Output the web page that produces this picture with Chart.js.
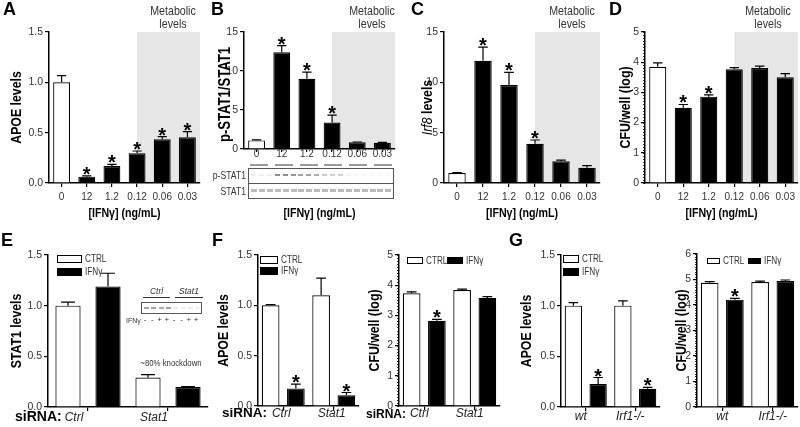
<!DOCTYPE html>
<html>
<head>
<meta charset="utf-8">
<script src="https://cdn.jsdelivr.net/npm/chart.js@4.4.1/dist/chart.umd.min.js"></script>
<style>
body{margin:0;background:#fff;width:800px;height:427px;position:relative;overflow:hidden;font-family:"Liberation Sans",Arial,sans-serif;}
canvas{position:absolute}
.let{position:absolute;font-weight:bold;font-size:18px;line-height:18px;color:#000}
.meta{position:absolute;width:80px;text-align:center;font-size:13px;line-height:13px;color:#333;transform:scaleX(0.82)}
.sirna{position:absolute;font-weight:bold;font-size:14px;line-height:14px;color:#000}
.sm{position:absolute;font-size:10.5px;line-height:11px;color:#333;white-space:nowrap}
.nar{transform:scaleX(0.82)}
.box{position:absolute;border:1px solid #555;box-sizing:border-box;background:#fff}
.band{position:absolute;background:#666}
</style>
</head>
<body>
<canvas id="cA"></canvas><canvas id="cB"></canvas><canvas id="cC"></canvas><canvas id="cD"></canvas>
<canvas id="cE"></canvas><canvas id="cF1"></canvas><canvas id="cF2"></canvas><canvas id="cG1"></canvas><canvas id="cG2"></canvas>

<div class="let" style="left:3px;top:0px">A</div>
<div class="let" style="left:211px;top:0px">B</div>
<div class="let" style="left:411px;top:0px">C</div>
<div class="let" style="left:609px;top:0px">D</div>
<div class="let" style="left:1px;top:231px">E</div>
<div class="let" style="left:212px;top:231px">F</div>
<div class="let" style="left:509px;top:231px">G</div>

<div class="meta" style="left:133px;top:4px">Metabolic<br>levels</div>
<div class="meta" style="left:332px;top:4px">Metabolic<br>levels</div>
<div class="meta" style="left:532px;top:4px">Metabolic<br>levels</div>
<div class="meta" style="left:728px;top:4px">Metabolic<br>levels</div>

<!-- B western blot inset -->
<div class="sm nar" style="left:200px;top:170px;width:46px;text-align:right;transform-origin:right center">p-STAT1</div>
<div class="sm nar" style="left:200px;top:186px;width:46px;text-align:right;transform-origin:right center">STAT1</div>
<div id="blotB" class="box" style="left:248px;top:168px;width:146px;height:31px"></div>
<div id="dashB"></div>

<!-- E inset -->
<div class="sm" style="left:143px;top:286px;width:27px;text-align:center;font-style:italic;font-size:8.5px;border-bottom:1px solid #333">Ctrl</div>
<div class="sm" style="left:175px;top:286px;width:28px;text-align:center;font-style:italic;font-size:8.5px;border-bottom:1px solid #333">Stat1</div>
<div id="blotE" class="box" style="left:141px;top:302px;width:61px;height:12px"></div>
<div class="sm" style="left:126px;top:315px;font-size:7px">IFNγ</div>
<div id="signE"></div>
<div class="sm nar" style="left:121px;top:357px;width:100px;text-align:center;font-size:9.5px">~80% knockdown</div>

<div class="sirna" style="left:15px;top:409px">siRNA:</div>
<div class="sirna" style="left:222px;top:406px;font-size:13.5px">siRNA:</div>
<div class="sirna" style="left:366px;top:407px;font-size:12px">siRNA:</div>

<script>
// top row: IFNγ dose response
const doses = ['0', '12', '1.2', '0.12', '0.06', '0.03'];
const metabolicFrom = '0.12';

const apoeA = [1.00, 0.063, 0.169, 0.295, 0.434, 0.454];
const apoeAErr = [0.066, 0.007, 0.016, 0.023, 0.026, 0.056];
const apoeASig = [0, 1, 1, 1, 1, 1];

const pstatB = [1.1, 12.4, 9.0, 3.4, 0.85, 0.8];
const pstatBErr = [0.06, 0.85, 0.85, 0.95, 0.05, 0.05];
const pstatBSig = [0, 1, 1, 1, 0, 0];

const irf8C = [1.0, 12.15, 9.73, 3.9, 2.15, 1.52];
const irf8CErr = [0.04, 1.35, 1.26, 0.37, 0.13, 0.2];
const irf8CSig = [0, 1, 1, 1, 0, 0];

const cfuD = [3.85, 2.49, 2.86, 3.77, 3.81, 3.50];
const cfuDErr = [0.13, 0.11, 0.06, 0.05, 0.06, 0.12];
const cfuDSig = [0, 1, 1, 0, 0, 0];

// bottom row: CTRL vs IFNγ
const sirnaGroups = ['Ctrl', 'Stat1'];
const mouseGroups = ['wt', 'Irf1-/-'];

const stat1E_ctrl = [1.0, 0.29];
const stat1E_ctrlErr = [0.035, 0.03];
const stat1E_ifn = [1.19, 0.197];
const stat1E_ifnErr = [0.13, 0.004];

const apoeF_ctrl = [1.0, 1.10];
const apoeF_ctrlErr = [0.008, 0.17];
const apoeF_ifn = [0.175, 0.108];
const apoeF_ifnErr = [0.043, 0.026];
const apoeF_sig = [1, 1];

const cfuF_ctrl = [3.73, 3.84];
const cfuF_ctrlErr = [0.05, 0.03];
const cfuF_ifn = [2.82, 3.58];
const cfuF_ifnErr = [0.05, 0.04];
const cfuF_sig = [1, 0];

const apoeG_ctrl = [1.0, 1.0];
const apoeG_ctrlErr = [0.03, 0.047];
const apoeG_ifn = [0.226, 0.18];
const apoeG_ifnErr = [0.065, 0.014];
const apoeG_sig = [1, 1];

const cfuG_ctrl = [4.87, 4.90];
const cfuG_ctrlErr = [0.05, 0.04];
const cfuG_ifn = [4.21, 4.94];
const cfuG_ifnErr = [0.05, 0.04];
const cfuG_sig = [1, 0];

const FAM = '"Liberation Sans", Arial, sans-serif';
const SQUEEZE = 0.82;   // the figure uses a condensed face
Chart.defaults.font.family = FAM;
Chart.defaults.color = '#333';

// draws text squeezed along its own direction
function narrowText(ctx, text, x, y, font, align) {
  ctx.save();
  ctx.font = font;
  const w = ctx.measureText(text).width * SQUEEZE;
  ctx.translate(x, y);
  ctx.scale(SQUEEZE, 1);
  ctx.textAlign = 'left';
  const x0 = align === 'center' ? -w / 2 : 0;
  ctx.fillText(text, x0 / SQUEEZE, 0);
  ctx.restore();
  return w;
}

// shading, error bars, stars, minor ticks, legend, titles
const decor = {
  id: 'decor',
  beforeDatasetsDraw(chart, args, o) {
    if (!o.shadeFrom) return;
    const {ctx, chartArea: a} = chart;
    const x0 = chart.scales.x.getPixelForValue(chart.data.labels.indexOf(o.shadeFrom));
    ctx.save();
    ctx.fillStyle = '#e6e6e6';
    ctx.fillRect(x0, a.top, a.right - x0, a.bottom - a.top - 1);
    ctx.restore();
  },
  afterDatasetsDraw(chart) {
    const ctx = chart.ctx;
    const y = chart.scales.y;
    chart.data.datasets.forEach((ds, i) => {
      chart.getDatasetMeta(i).data.forEach((bar, j) => {
        const top = y.getPixelForValue(ds.data[j] + (ds.err ? ds.err[j] : 0));
        const cap = Math.min(bar.width * 0.55, 14) / 2;
        ctx.save();
        ctx.strokeStyle = '#000';
        ctx.lineWidth = 1.2;
        ctx.beginPath();
        ctx.moveTo(bar.x, bar.y);
        ctx.lineTo(bar.x, top);
        ctx.moveTo(bar.x - cap, top);
        ctx.lineTo(bar.x + cap, top);
        ctx.stroke();
        if (ds.sig && ds.sig[j]) {
          ctx.fillStyle = '#000';
          ctx.font = 'bold 20px ' + FAM;
          ctx.textAlign = 'center';
          ctx.textBaseline = 'alphabetic';
          ctx.fillText('*', bar.x, top + 5);
        }
        ctx.restore();
      });
    });
  },
  afterDraw(chart, args, o) {
    const {ctx, chartArea: a} = chart;
    const y = chart.scales.y;
    ctx.save();
    // minor ticks
    if (o.minor) {
      ctx.strokeStyle = '#000';
      ctx.lineWidth = 0.8;
      const n = Math.round(y.max / o.minor);
      ctx.beginPath();
      for (let k = 0; k <= n; k++) {
        const py = Math.round(y.getPixelForValue(k * o.minor)) + 0.5;
        ctx.moveTo(a.left - 2, py);
        ctx.lineTo(a.left, py);
      }
      ctx.stroke();
    }
    // legend
    if (o.legend) {
      const L = o.legend;
      ctx.textBaseline = 'middle';
      chart.data.datasets.forEach((ds, i) => {
        const bx = a.left + L.x + (L.dir === 'h' ? i * L.step : 0);
        const by = a.top + L.y + (L.dir === 'v' ? i * L.step : 0);
        ctx.fillStyle = ds.backgroundColor;
        ctx.fillRect(bx, by, L.w, L.h);
        ctx.strokeStyle = '#000';
        ctx.lineWidth = 1;
        ctx.strokeRect(bx + 0.5, by + 0.5, L.w - 1, L.h - 1);
        ctx.fillStyle = '#333';
        narrowText(ctx, ds.label, bx + L.w + 3, by + L.h / 2 + 0.5, '10px ' + FAM, 'left');
      });
    }
    // x title
    if (o.xTitle) {
      ctx.fillStyle = '#000';
      ctx.textBaseline = 'middle';
      narrowText(ctx, o.xTitle, (a.left + a.right) / 2, chart.height - 8, 'bold 13px ' + FAM, 'center');
    }
    // y title with mixed styles
    if (o.yTitle) {
      const size = o.yTitleSize || 15;
      const parts = o.yTitle.map(p => ({t: p[0], f: (p[1] === 'italic' ? 'italic ' : 'bold ') + size + 'px ' + FAM}));
      let total = 0;
      parts.forEach(p => { ctx.font = p.f; p.w = ctx.measureText(p.t).width * SQUEEZE; total += p.w; });
      ctx.translate(o.yTitleX, (a.top + a.bottom) / 2 + (o.yTitleDy || 0));
      ctx.rotate(-Math.PI / 2);
      ctx.fillStyle = '#000';
      ctx.textBaseline = 'middle';
      let x = -total / 2;
      parts.forEach(p => { narrowText(ctx, p.t, x, 0, p.f, 'left'); x += p.w; });
    }
    ctx.restore();
  }
};

function panel(id, g, labels, sets, o) {
  const cv = document.getElementById(id);
  cv.width = g.w;
  cv.height = g.h;
  cv.style.left = g.left + 'px';
  cv.style.top = g.top + 'px';
  return new Chart(cv, {
    type: 'bar',
    data: {
      labels: labels,
      datasets: sets.map(s => ({
        label: s.label,
        data: s.data,
        err: s.err,
        sig: s.sig,
        backgroundColor: s.colors || (s.white ? '#ffffff' : '#000000'),
        borderColor: '#000',
        borderWidth: 1.2,
        barPercentage: o.barPct,
        categoryPercentage: 1
      }))
    },
    options: {
      responsive: false,
      animation: false,
      devicePixelRatio: 1,
      layout: {padding: {top: g.padTop, right: g.padRight, left: 0, bottom: 0}},
      plugins: {
        legend: {display: false},
        tooltip: {enabled: false},
        decor: {shadeFrom: o.shadeFrom, minor: o.minor, legend: o.legend, xTitle: o.xTitle,
                yTitle: o.yTitle, yTitleX: o.yTitleX, yTitleSize: o.yTitleSize, yTitleDy: o.yTitleDy}
      },
      scales: {
        x: {
          grid: {offset: false, drawOnChartArea: false, tickLength: o.xTick || 4, color: '#000', lineWidth: 1.2},
          border: {color: '#000', width: 1.5},
          ticks: {font: o.xFont || {size: 10}, color: o.xColor || '#333', padding: o.xPad, labelOffset: o.labelOffset || 0, maxRotation: 0, autoSkip: false},
          afterFit: s => { s.height = g.xh; }
        },
        y: {
          min: 0,
          max: o.ymax,
          grid: {drawOnChartArea: false, tickLength: 4, color: '#000', lineWidth: 1.2},
          border: {color: '#000', width: 1.5},
          ticks: {stepSize: o.step, padding: 2, font: {size: 10.5}, color: '#333', callback: v => v.toFixed(o.dec)},
          afterFit: s => { s.width = g.yw; }
        }
      }
    },
    plugins: [decor]
  });
}

const doseTitle = '[IFNγ] (ng/mL)';
const top6 = {barPct: 0.67, shadeFrom: metabolicFrom, xTitle: doseTitle, xPad: 4};
// untreated control is the white bar
const doseColors = doses.map((d, i) => i === 0 ? '#ffffff' : '#000000');

panel('cA', {left: 0, top: 0, w: 205, h: 221, yw: 49, padTop: 32, padRight: 5, xh: 38}, doses,
  [{data: apoeA, err: apoeAErr, sig: apoeASig, colors: doseColors}],
  Object.assign({}, top6, {ymax: 1.5, step: 0.5, dec: 1, yTitle: [['APOE levels']], yTitleX: 17}));

panel('cB', {left: 195, top: 0, w: 205, h: 221, yw: 49, padTop: 32, padRight: 5, xh: 72}, doses,
  [{data: pstatB, err: pstatBErr, sig: pstatBSig, colors: doseColors}],
  Object.assign({}, top6, {ymax: 15, step: 5, dec: 0, xTick: 3, xPad: -4, yTitle: [['p-STAT1/STAT1']], yTitleX: 31, yTitleSize: 16, yTitleDy: 4}));

panel('cC', {left: 395, top: 0, w: 210, h: 221, yw: 49, padTop: 32, padRight: 5, xh: 38}, doses,
  [{data: irf8C, err: irf8CErr, sig: irf8CSig, colors: doseColors}],
  Object.assign({}, top6, {ymax: 15, step: 5, dec: 0, yTitle: [['Irf8', 'italic'], [' levels']], yTitleX: 33}));

panel('cD', {left: 595, top: 0, w: 205, h: 221, yw: 50, padTop: 32, padRight: 2, xh: 38}, doses,
  [{data: cfuD, err: cfuDErr, sig: cfuDSig, colors: doseColors}],
  Object.assign({}, top6, {ymax: 5, step: 1, dec: 0, minor: 0.1, yTitle: [['CFU/well (log)']], yTitleX: 31}));

const italicX = {size: 12, style: 'italic'};
const bot = {xFont: italicX, xColor: '#222', xPad: 0};

panel('cE', {left: 0, top: 225, w: 212, h: 202, yw: 48, padTop: 30, padRight: 4, xh: 20}, sirnaGroups,
  [{label: 'CTRL', data: stat1E_ctrl, err: stat1E_ctrlErr, white: true},
   {label: 'IFNγ', data: stat1E_ifn, err: stat1E_ifnErr}],
  Object.assign({}, bot, {barPct: 0.63, ymax: 1.5, step: 0.5, dec: 1, labelOffset: -14, xPad: -1,
    legend: {dir: 'v', x: 9, y: 0, w: 25, h: 8, step: 13}, yTitle: [['STAT1 levels']], yTitleX: 17}));

panel('cF1', {left: 208, top: 225, w: 154, h: 202, yw: 50, padTop: 30, padRight: 3, xh: 21}, sirnaGroups,
  [{label: 'CTRL', data: apoeF_ctrl, err: apoeF_ctrlErr, white: true},
   {label: 'IFNγ', data: apoeF_ifn, err: apoeF_ifnErr, sig: apoeF_sig}],
  Object.assign({}, bot, {barPct: 0.7, ymax: 1.5, step: 0.5, dec: 1, labelOffset: -2, xPad: -4,
    legend: {dir: 'v', x: 2, y: 1, w: 18, h: 8, step: 11}, yTitle: [['APOE levels']], yTitleX: 16}));

panel('cF2', {left: 362, top: 225, w: 140, h: 202, yw: 37, padTop: 30, padRight: 2, xh: 21}, sirnaGroups,
  [{label: 'CTRL', data: cfuF_ctrl, err: cfuF_ctrlErr, white: true},
   {label: 'IFNγ', data: cfuF_ifn, err: cfuF_ifnErr, sig: cfuF_sig}],
  Object.assign({}, bot, {barPct: 0.7, ymax: 5, step: 1, dec: 0, minor: 0.1, labelOffset: -5, xPad: -4,
    legend: {dir: 'h', x: 8, y: 2, w: 16, h: 7, step: 40}, yTitle: [['CFU/well (log)']], yTitleX: 13}));

panel('cG1', {left: 512, top: 225, w: 150, h: 202, yw: 49, padTop: 30, padRight: 2, xh: 20}, mouseGroups,
  [{label: 'CTRL', data: apoeG_ctrl, err: apoeG_ctrlErr, white: true},
   {label: 'IFNγ', data: apoeG_ifn, err: apoeG_ifnErr, sig: apoeG_sig}],
  Object.assign({}, bot, {barPct: 0.7, ymax: 1.5, step: 0.5, dec: 1, labelOffset: -5, xPad: -2,
    legend: {dir: 'v', x: 2, y: 0, w: 16, h: 8, step: 13}, yTitle: [['APOE levels']], yTitleX: 15}));

panel('cG2', {left: 662, top: 225, w: 138, h: 202, yw: 35, padTop: 29, padRight: 2, xh: 20}, mouseGroups,
  [{label: 'CTRL', data: cfuG_ctrl, err: cfuG_ctrlErr, white: true},
   {label: 'IFNγ', data: cfuG_ifn, err: cfuG_ifnErr, sig: cfuG_sig}],
  Object.assign({}, bot, {barPct: 0.7, ymax: 6, step: 1, dec: 0, minor: 0.1, labelOffset: 0, xPad: -2,
    legend: {dir: 'h', x: 10, y: 4, w: 13, h: 6, step: 41}, yTitle: [['CFU/well (log)']], yTitleX: 20}));

// blot insets (decoration only)
const bandP = [.1, .1, .1, .75, .75, .7, .6, .6, .55, .35, .3, .3, .08, .06, .06, .05, .05, .05];
const blotB = document.getElementById('blotB');
const sep = document.createElement('div');
sep.style.cssText = 'position:absolute;left:0;right:0;top:14px;border-top:1px solid #555';
blotB.appendChild(sep);
bandP.forEach((v, i) => {
  const p = document.createElement('div');
  p.className = 'band';
  p.style.cssText += ';left:' + (2 + i * 7.9) + 'px;top:5px;width:5px;height:2px;opacity:' + v;
  blotB.appendChild(p);
  const s = document.createElement('div');
  s.className = 'band';
  s.style.cssText += ';left:' + (2 + i * 7.9) + 'px;top:20px;width:6px;height:3px;opacity:0.45';
  blotB.appendChild(s);
});
const dashB = document.getElementById('dashB');
doses.forEach((d, i) => {
  const q = document.createElement('div');
  q.style.cssText = 'position:absolute;background:#999;height:2px;width:18px;top:164px;left:' + (250 + i * 24.8) + 'px';
  dashB.appendChild(q);
});
const blotE = document.getElementById('blotE');
const bandE = [.6, .6, .55, .6, .12, .1, .12, .1];
const signs = ['-', '-', '+', '+', '-', '-', '+', '+'];
const signE = document.getElementById('signE');
bandE.forEach((v, i) => {
  const b = document.createElement('div');
  b.className = 'band';
  b.style.cssText += ';left:' + (2 + i * 7.3) + 'px;top:4px;width:5px;height:2px;opacity:' + v;
  blotE.appendChild(b);
  const t = document.createElement('div');
  t.className = 'sm';
  t.style.cssText += ';font-size:8px;top:314px;width:6px;text-align:center;left:' + (142 + i * 7.3) + 'px';
  t.textContent = signs[i];
  signE.appendChild(t);
});
</script>
</body>
</html>
